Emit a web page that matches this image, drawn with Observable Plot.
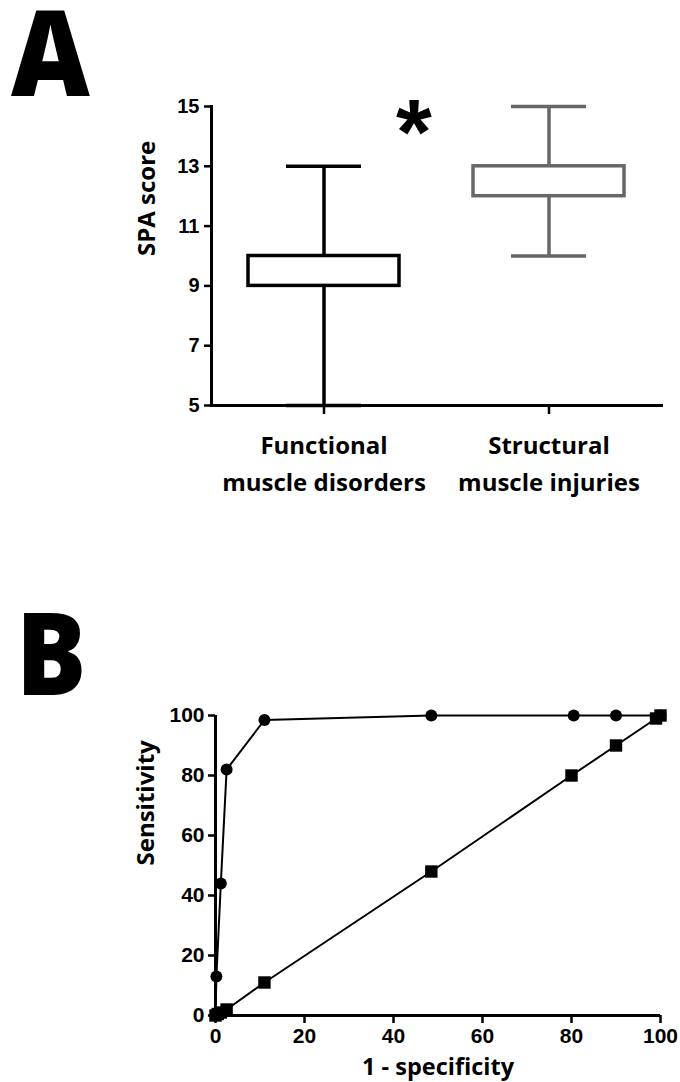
<!DOCTYPE html>
<html><head><meta charset="utf-8">
<script src="https://cdn.jsdelivr.net/npm/d3@7"></script>
<script src="https://cdn.jsdelivr.net/npm/@observablehq/plot@0.6"></script>
<style>
body{margin:0;background:#fff;}
#wrap{position:relative;width:680px;height:1082px;overflow:hidden;background:#fff;}
.panel{position:absolute;left:0;z-index:1;}
.letter{position:absolute;z-index:2;font-family:"Open Sans",sans-serif;font-weight:800;line-height:0.8;color:#000;transform-origin:left top;}
.star{position:absolute;z-index:2;font-family:"Liberation Sans",sans-serif;font-weight:bold;font-size:92px;line-height:1;color:#000;}
</style></head><body><div id="wrap">
<div class="panel" id="pa" style="top:0;"></div>
<div class="panel" id="pb" style="top:600px;"></div>
<div class="letter" id="la" style="left:11px;top:4px;font-size:118px;transform:scaleX(0.92);">A</div>
<div class="letter" id="lb" style="left:16px;top:604px;font-size:116px;transform:scaleX(0.9);">B</div>
<div class="star" id="star" style="left:396px;top:86px;">*</div>
</div>
<script>
// ---- Panel A data ----
const groups = ["Functional muscle disorders", "Structural muscle injuries"];
const groupLabels = ["Functional\nmuscle disorders", "Structural\nmuscle injuries"];
const minVals = [5, 10];
const q1Vals = [9, 12];
const q3Vals = [10, 13];
const maxVals = [13, 15];
const groupColors = ["#000000", "#676767"];
const yTicksA = [5, 7, 9, 11, 13, 15];

// ---- Panel B data ----
const specCircle = [0, 0.2, 1.2, 2.5, 11, 48.5, 80.5, 90, 100];
const sensCircle = [0, 13, 44, 82, 98.5, 100, 100, 100, 100];
const specSquare = [0, 0.5, 1.2, 2.5, 11, 48.5, 80, 90, 99, 100];
const sensSquare = [0, 0.5, 1, 2, 11, 48, 80, 90, 99, 100];
const ticksB = [0, 20, 40, 60, 80, 100];

const boxes = groups.map((g, i) => ({g, label: groupLabels[i], min: minVals[i], q1: q1Vals[i], q3: q3Vals[i], max: maxVals[i], color: groupColors[i]}));
const labelOf = new Map(boxes.map(d => [d.g, d.label]));

const tickFont = {fontFamily: "Liberation Sans, Arial, sans-serif", fontWeight: "bold"};
const labelFont = {fontFamily: "Open Sans, sans-serif", fontWeight: "bold", fontSize: 24};

const pa = Plot.plot({
  width: 680, height: 520,
  marginLeft: 211, marginRight: 19, marginTop: 106, marginBottom: 115,
  style: {background: "transparent", color: "#000", overflow: "visible"},
  x: {domain: groups, padding: 0},
  y: {domain: [5, 15]},
  color: {type: "identity"},
  marks: [
    Plot.ruleX(boxes, {x: "g", y1: "min", y2: "q1", stroke: "color", strokeWidth: 3.5}),
    Plot.ruleX(boxes, {x: "g", y1: "q3", y2: "max", stroke: "color", strokeWidth: 3.5}),
    Plot.tickY(boxes, {x: "g", y: "max", stroke: "color", strokeWidth: 3.5, insetLeft: 75, insetRight: 75}),
    Plot.tickY(boxes, {x: "g", y: "min", stroke: "color", strokeWidth: 3.5, insetLeft: 75, insetRight: 75}),
    Plot.barY(boxes, {x: "g", y1: "q1", y2: "q3", fill: "white", stroke: "color", strokeWidth: 3.5, insetLeft: 37, insetRight: 37}),
    Plot.axisY({ticks: yTicksA, tickSize: 7, tickPadding: 5, strokeWidth: 2.5, label: null, ...tickFont, fontSize: 20, letterSpacing: -0.5}),
    Plot.axisX({tickSize: 9, strokeWidth: 2.5, tickPadding: 13, label: null, tickFormat: d => labelOf.get(d), lineHeight: 1.55, ...labelFont}),
    Plot.frame({anchor: "left", strokeWidth: 3}),
    Plot.frame({anchor: "bottom", strokeWidth: 3}),
    Plot.text(["SPA score"], {frameAnchor: "left", rotate: -90, dx: -64, ...labelFont})
  ]
});
document.getElementById("pa").appendChild(pa);

const pb = Plot.plot({
  width: 680, height: 482,
  marginLeft: 215, marginRight: 20, marginTop: 115, marginBottom: 67,
  style: {background: "transparent", color: "#000", overflow: "visible"},
  x: {domain: [0, 100]},
  y: {domain: [0, 100]},
  marks: [
    Plot.line(specSquare.map((x, i) => ({x, y: sensSquare[i]})), {x: "x", y: "y", stroke: "#000", strokeWidth: 2}),
    Plot.line(specCircle.map((x, i) => ({x, y: sensCircle[i]})), {x: "x", y: "y", stroke: "#000", strokeWidth: 2}),
    Plot.dot(specCircle.map((x, i) => ({x, y: sensCircle[i]})), {x: "x", y: "y", r: 6, fill: "#000"}),
    Plot.dot(specSquare.map((x, i) => ({x, y: sensSquare[i]})), {x: "x", y: "y", r: 7, fill: "#000", symbol: "square"}),
    Plot.ruleX([0], {strokeWidth: 3}),
    Plot.ruleY([0], {strokeWidth: 3}),
    Plot.axisY({ticks: ticksB, tickSize: 7, tickPadding: 4, strokeWidth: 2.5, label: null, ...tickFont, fontSize: 21}),
    Plot.axisX({ticks: ticksB, tickSize: 8, tickPadding: 5, strokeWidth: 2.5, label: null, ...tickFont, fontSize: 21}),
    Plot.text(["Sensitivity"], {frameAnchor: "left", rotate: -90, dx: -69, ...labelFont}),
    Plot.text(["1 - specificity"], {frameAnchor: "bottom", dy: 59, ...labelFont, fontSize: 23.5})
  ]
});
document.getElementById("pb").appendChild(pb);
</script>
</body></html>
